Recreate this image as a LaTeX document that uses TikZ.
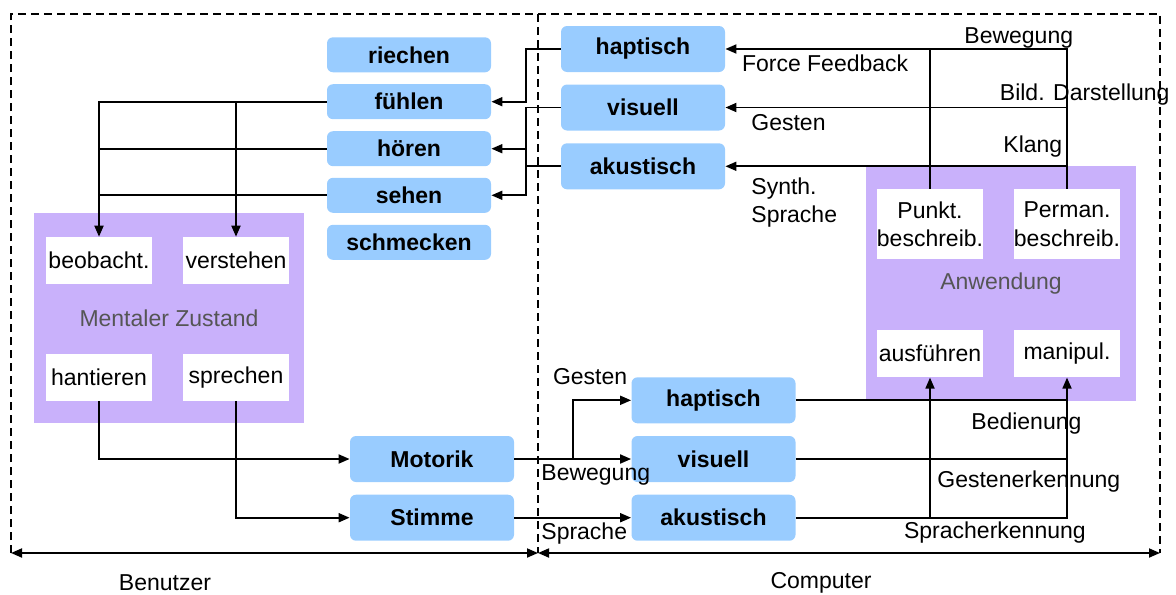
\documentclass[tikz,border=0pt]{standalone}
\usepackage{fontspec}
\setmainfont{Liberation Sans}
\usetikzlibrary{arrows.meta}
\definecolor{bluefill}{RGB}{153,204,255}
\definecolor{purplefill}{RGB}{201,177,251}
\definecolor{graytext}{RGB}{85,85,85}
\begin{document}
\begin{tikzpicture}[x=0.5pt,y=-0.5pt,
  font=\fontsize{11.5}{14.2}\selectfont,
  bluebox/.style={fill=bluefill, rounded corners=3pt, minimum width=82pt, inner sep=0pt, font=\fontsize{11.5}{14.2}\selectfont\bfseries},
  sensebox/.style={bluebox, minimum height=17.5pt},
  iobox/.style={bluebox, minimum height=23pt},
  wbox/.style={fill=white, minimum width=53pt, inner sep=0pt, align=center},
  panel/.style={fill=purplefill, inner sep=0pt, text=graytext},
  lbl/.style={inner sep=0pt, anchor=west},
  conn/.style={line width=0.9pt},
  arr/.style={conn, -{Triangle[length=5.5pt,width=4.5pt]}},
  biarr/.style={conn, {Triangle[length=5.5pt,width=4.5pt]}-{Triangle[length=5.5pt,width=4.5pt]}},
  frame/.style={line width=0.6pt, dash pattern=on 4pt off 2.5pt}
]
\useasboundingbox (0,0) rectangle (1176,594);

% panels
\node[panel, minimum width=135pt, minimum height=105pt] (mental) at (169,318) {Mentaler Zustand};
\node[panel, minimum width=135pt, minimum height=117.25pt] (anw) at (1001,283.3) {Anwendung};

% white boxes
\node[wbox, minimum height=23.2pt] (beob) at (99,260.3) {beobacht.};
\node[wbox, minimum height=23.2pt] (verst) at (236,260.3) {verstehen};
\node[wbox, minimum height=23.2pt] (hant) at (99,377.3) {hantieren};
\node[wbox, minimum height=23.2pt] (sprech) at (236,377.3) {sprechen};
\node[wbox, minimum height=35pt] (punkt) at (930,224.3) {Punkt.\\beschreib.};
\node[wbox, minimum height=35pt] (perman) at (1067,224.3) {Perman.\\beschreib.};
\node[wbox, minimum height=23.5pt] (ausf) at (930,353.7) {ausführen};
\node[wbox, minimum height=23.5pt] (manip) at (1067,353.7) {manipul.};

% senses
\node[sensebox] (riechen) at (409,54.8) {riechen};
\node[sensebox] (fuehlen) at (409,101.7) {fühlen};
\node[sensebox] (hoeren) at (409,148.7) {hören};
\node[sensebox] (sehen) at (409,195.3) {sehen};
\node[sensebox] (schmecken) at (409,242.3) {schmecken};

% computer output
\node[iobox] (hapO) at (643,49) {haptisch};
\node[iobox] (visO) at (643,107.5) {visuell};
\node[iobox] (akuO) at (643,166.3) {akustisch};

% computer input
\node[iobox] (hapI) at (713.5,400.3) {haptisch};
\node[iobox] (visI) at (713.5,459) {visuell};
\node[iobox] (akuI) at (713.5,517.7) {akustisch};

% user output
\node[iobox] (motorik) at (432,459) {Motorik};
\node[iobox] (stimme) at (432,517.7) {Stimme};

% helper coordinates
\coordinate (busL) at (526,0);
\coordinate (splitx) at (572.7,0);
\coordinate (fTL) at (11,14);
\coordinate (fTM) at (538,14);
\coordinate (fTR) at (1160,14);
\coordinate (fBL) at (11,553);
\coordinate (fBM) at (538,553);
\coordinate (fBR) at (1160,553);

% senses <- computer output
\draw[arr] (hapO.west) -| (busL |- fuehlen.east) -- (fuehlen.east);
\draw[arr] (visO.west) -| (busL |- sehen.east) -- (sehen.east);
\draw[arr] (busL |- hoeren.east) -- (hoeren.east);
\draw[conn] (akuO.west) -- (busL |- akuO.west);

% senses -> mental state
\draw[arr] (fuehlen.west) -| (beob.north);
\draw[arr] (verst.north |- fuehlen.west) -- (verst.north);
\draw[conn] (hoeren.west) -- (beob.north |- hoeren.west);
\draw[conn] (sehen.west) -- (beob.north |- sehen.west);

% application -> computer output
\draw[arr] (perman.north) |- (hapO.east);
\draw[arr] (perman.north |- visO.east) -- (visO.east);
\draw[arr] (perman.north |- akuO.east) -- (akuO.east);
\draw[conn] (punkt.north) -- (punkt.north |- hapO.east);

% mental state -> user output
\draw[arr] (hant.south) |- (motorik.west);
\draw[arr] (sprech.south) |- (stimme.west);

% user output -> computer input
\draw[arr] (motorik.east) -- (visI.west);
\draw[arr] (splitx |- motorik.east) |- (hapI.west);
\draw[arr] (stimme.east) -- (akuI.west);

% computer input -> application
\draw[arr] (akuI.east) -| (manip.south);
\draw[conn] (hapI.east) -- (manip.south |- hapI.east);
\draw[conn] (visI.east) -- (manip.south |- visI.east);
\draw[arr] (ausf.south |- akuI.east) -- (ausf.south);

% frame
\draw[frame] (fBL) -- (fTL) -- (fTR) -- (fBR);
\draw[frame] (fTM) -- (fBM);
\draw[biarr] (fBL) -- (fBM);
\draw[biarr] (fBM) -- (fBR);

% labels
\node[lbl] (lBew1) at (964,37.5) {Bewegung};
\node[lbl] (lFF) at (741.6,63.3) {Force Feedback};
\node[lbl] (lBild) at (999.5,95) {Bild. Darstellung};
\node[lbl] (lGes1) at (751,123) {Gesten};
\node[lbl] (lKlang) at (1003,146.7) {Klang};
\node[lbl, align=left] (lSynth) at (751,202.3) {Synth.\\Sprache};
\node[lbl] (lGes2) at (552.6,376.7) {Gesten};
\node[lbl] (lBew2) at (541,475) {Bewegung};
\node[lbl] (lSpr) at (541,534) {Sprache};
\node[lbl] (lBed) at (971,423.3) {Bedienung};
\node[lbl] (lGesErk) at (937,481.7) {Gestenerkennung};
\node[lbl] (lSprErk) at (903.7,532.7) {Spracherkennung};
\node[inner sep=0pt] (lBenutzer) at (165,583) {Benutzer};
\node[inner sep=0pt] (lComputer) at (821,583) {Computer};
\end{tikzpicture}
\end{document}
